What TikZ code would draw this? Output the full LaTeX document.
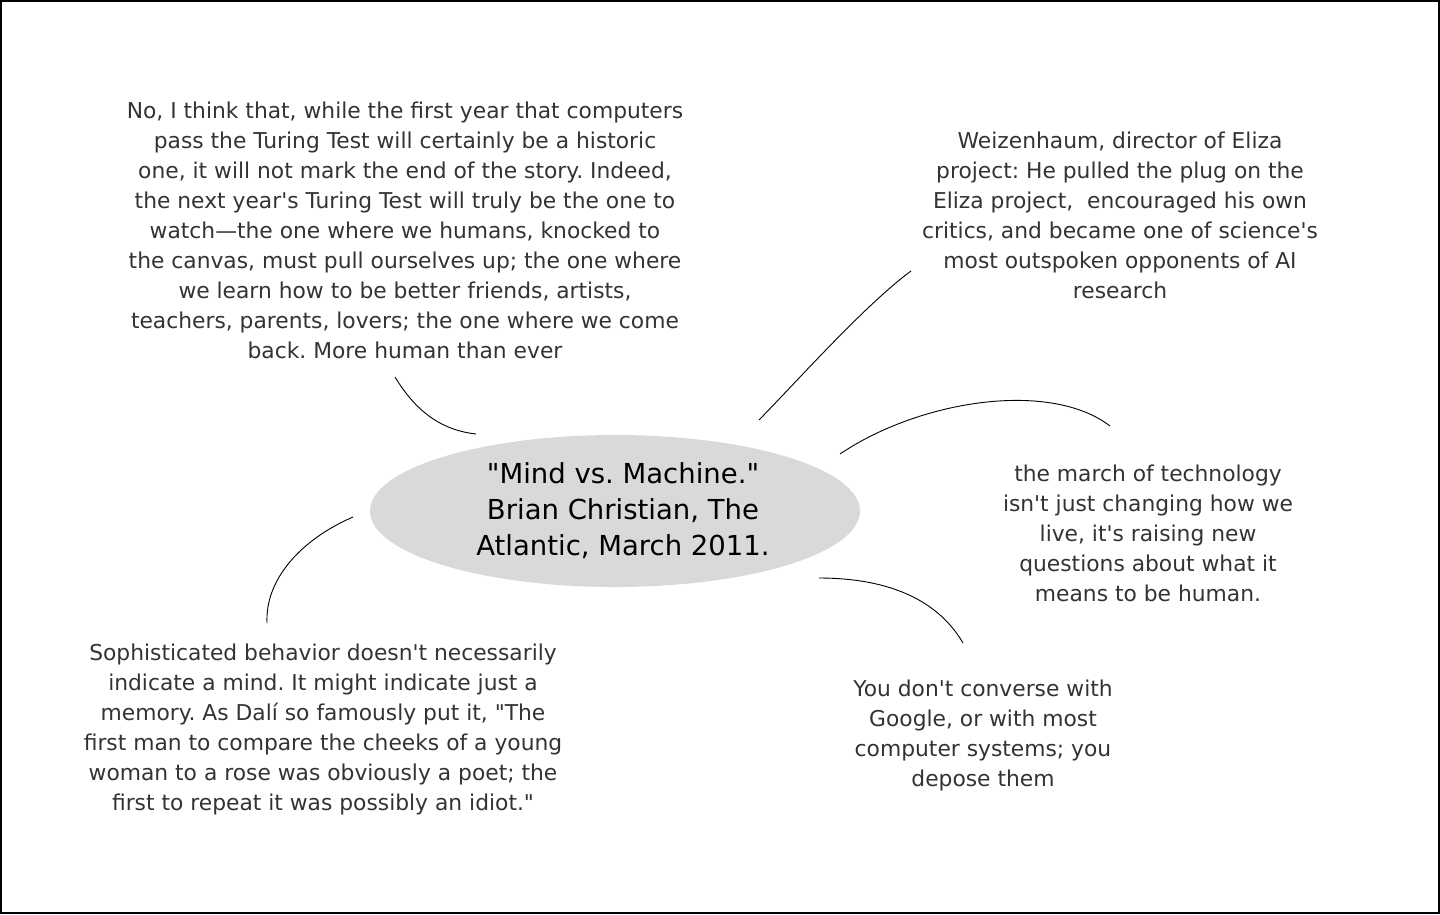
\documentclass[tikz,border=0pt]{standalone}
\usepackage{fontspec}
\setmainfont{DejaVu Sans}[Ligatures=TeXOff]
\usetikzlibrary{shapes.geometric}
\definecolor{txt}{HTML}{333333}
\definecolor{ell}{HTML}{D9D9D9}
\tikzset{
  note/.style={text=txt, align=center, font=\fontsize{21.8}{30}\selectfont, inner sep=0pt},
  link/.style={draw=black, line width=0.9pt},
}
\begin{document}
\frenchspacing
\begin{tikzpicture}[x=1pt,y=-1pt]
\useasboundingbox (0,0) rectangle (1440,914);
\draw[line width=2pt] (1,1) rectangle (1439,913);
\node[ellipse, fill=ell, minimum width=490, minimum height=152, inner sep=0pt] (c) at (615,511) {};
\node[text=black, align=center, font=\fontsize{27.5}{36}\selectfont, inner sep=0pt] (ct) at (623,511) {"Mind vs. Machine."\\ Brian Christian, The\\Atlantic, March 2011.};
\node[note] (a) at (405,230) {No, I think that, while the first year that computers\\pass the Turing Test will certainly be a historic\\one, it will not mark the end of the story. Indeed,\\the next year's Turing Test will truly be the one to\\watch—the one where we humans, knocked to\\the canvas, must pull ourselves up; the one where\\we learn how to be better friends, artists,\\teachers, parents, lovers; the one where we come\\back. More human than ever};
\node[note] (b) at (1120,215) {Weizenhaum, director of Eliza\\project: He pulled the plug on the\\Eliza project,\ \ encouraged his own\\critics, and became one of science's\\most outspoken opponents of AI\\research};
\node[note] (m) at (1148,533) {the march of technology\\isn't just changing how we\\live, it's raising new\\questions about what it\\means to be human.};
\node[note] (d) at (983,735) {You don't converse with\\Google, or with most\\computer systems; you\\depose them};
\node[note] (e) at (323,729) {Sophisticated behavior doesn't necessarily\\indicate a mind. It might indicate just a\\memory. As Dalí so famously put it, "The\\first man to compare the cheeks of a young\\woman to a rose was obviously a poet; the\\first to repeat it was possibly an idiot."};
\coordinate (a1) at (395,377); \coordinate (a2) at (476,434);
\coordinate (b1) at (759,420); \coordinate (b2) at (911,271);
\coordinate (m1) at (840,454); \coordinate (m2) at (1110,426);
\coordinate (d1) at (819,578); \coordinate (d2) at (963,643);
\coordinate (e1) at (353,517); \coordinate (e2) at (267,623);
\draw[link] (a1) .. controls (415,410) and (440,430) .. (a2);
\draw[link] (b1) .. controls (800,378) and (865,305) .. (b2);
\draw[link] (m1) .. controls (920,400) and (1050,380) .. (m2);
\draw[link] (d1) .. controls (880,578) and (935,595) .. (d2);
\draw[link] (e1) .. controls (300,540) and (265,580) .. (e2);
\end{tikzpicture}
\end{document}
